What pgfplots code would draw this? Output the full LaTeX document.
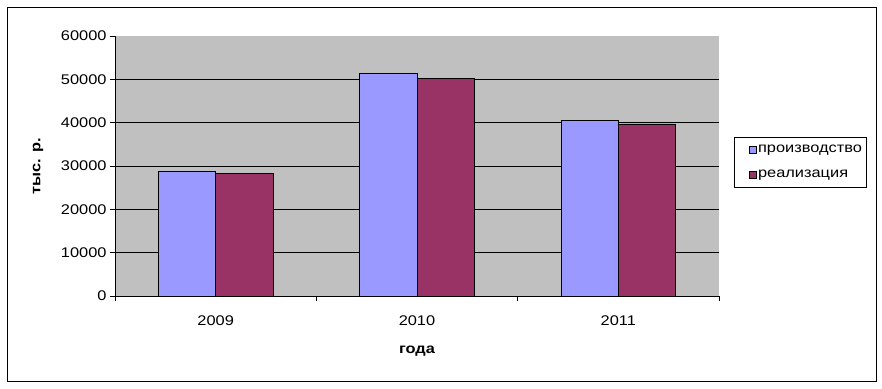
\documentclass[border=0pt]{standalone}
\usepackage{pgfplots}
\pgfplotsset{compat=1.18}
\usepackage{fontspec}
\setmainfont{Liberation Sans}[FakeStretch=1.17]
\definecolor{prod}{HTML}{9999FF}
\definecolor{real}{HTML}{993366}
\definecolor{bg}{HTML}{C0C0C0}
\begin{document}
\begin{tikzpicture}[font=\fontsize{14bp}{16bp}\selectfont]
\useasboundingbox (0,0) rectangle (882bp,389bp);
\draw[black, line width=0.8pt] (7bp,8bp) rectangle (876bp,382bp);
\begin{axis}[
  at={(115bp,93bp)}, anchor=south west,
  width=604bp, height=260bp, scale only axis,
  xmin=0.5, xmax=3.5, ymin=0, ymax=60000,
  ybar=0pt, bar width=57.3bp,
  axis background/.style={fill=bg},
  axis x line*=bottom, axis y line*=left,
  axis line style={-, black, line width=0.8pt},
  tick align=outside, major tick length=5bp,
  tick style={black, line width=0.8pt},
  scaled y ticks=false,
  ytick={0,10000,20000,30000,40000,50000},
  extra y ticks={60000}, extra y tick style={grid=none},
  ymajorgrids, grid style={black, line width=0.8pt},
  /pgf/number format/1000 sep={},
  /pgf/number format/assume math mode=true,
  xtick={0.5,1.5,2.5,3.5}, xticklabels={},
  extra x ticks={1,2,3}, extra x tick labels={2009,2010,2011},
  extra x tick style={major tick length=0pt, grid=none, xticklabel style={yshift=-16bp}},
  ylabel={\bfseries тыс. р.},
  xlabel={\bfseries года},
  every axis y label/.style={at={(rel axis cs:-0.1275,0.5)}, rotate=90, anchor=center},
  every axis x label/.style={at={(rel axis cs:0.5,-0.2115)}, anchor=center},
  legend style={at={(rel axis cs:1.0248,0.6115)}, anchor=north west, draw=black, fill=white,
    line width=0.8pt, inner xsep=3bp, inner ysep=7bp, row sep=14bp,
    nodes={inner sep=1bp},
    font=\fontsize{14bp}{16bp}\selectfont},
  legend image code/.code={\path (0bp,0bp); \draw[#1, draw=black, line width=0.6pt] (12bp,-3.5bp) rectangle (19bp,3.5bp);},
  legend cell align=left,
]
\addplot[fill=prod, draw=black, line width=0.8pt] coordinates {(1,28700) (2,51300) (3,40600)};
\addplot[fill=real, draw=black, line width=0.8pt] coordinates {(1,28200) (2,50300) (3,39700)};
\legend{производство, реализация}
\end{axis}
\end{tikzpicture}
\end{document}
